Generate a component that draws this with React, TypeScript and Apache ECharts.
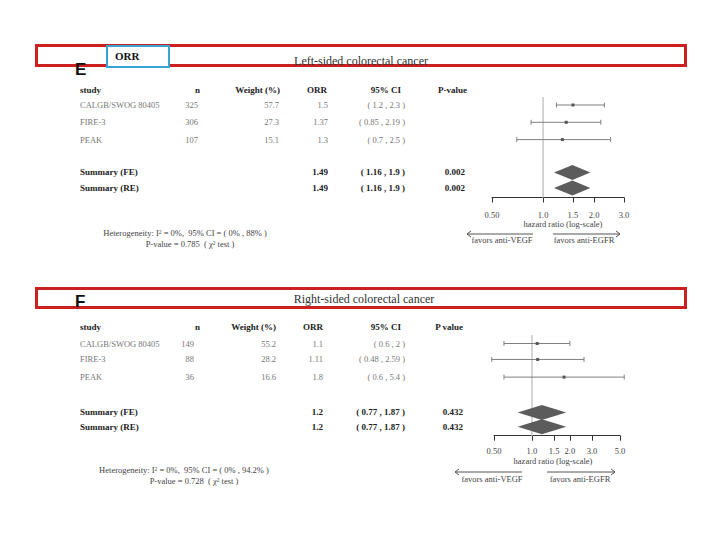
import React, { useEffect, useRef } from "react";
import * as echarts from "echarts";

// ---------------- data ----------------
const studies = ["CALGB/SWOG 80405", "FIRE-3", "PEAK"];
const summaryLabels = ["Summary (FE)", "Summary (RE)"];

// Left-sided
const leftN = [325, 306, 107];
const leftWeight = [57.7, 27.3, 15.1];
const leftOrr = [1.5, 1.37, 1.3];
const leftLower = [1.2, 0.85, 0.7];
const leftUpper = [2.3, 2.19, 2.5];
const leftSumOrr = [1.49, 1.49];
const leftSumLower = [1.16, 1.16];
const leftSumUpper = [1.9, 1.9];
const leftSumP = ["0.002", "0.002"];
const leftHetI2 = ["0%", "0%", "88%"];
const leftHetP = "0.785";
const leftTickValues = [0.5, 1, 1.5, 2, 3];
const leftTickLabels = ["0.50", "1.0", "1.5", "2.0", "3.0"];

// Right-sided
const rightN = [149, 88, 36];
const rightWeight = [55.2, 28.2, 16.6];
const rightOrr = [1.1, 1.11, 1.8];
const rightLower = [0.6, 0.48, 0.6];
const rightUpper = [2, 2.59, 5.4];
const rightSumOrr = [1.2, 1.2];
const rightSumLower = [0.77, 0.77];
const rightSumUpper = [1.87, 1.87];
const rightSumP = ["0.432", "0.432"];
const rightHetI2 = ["0%", "0%", "94.2%"];
const rightHetP = "0.728";
const rightTickValues = [0.5, 1, 1.5, 2, 3, 5];
const rightTickLabels = ["0.50", "1.0", "1.5", "2.0", "3.0", "5.0"];

const refValue = 1;
const axisTitle = "hazard ratio (log-scale)";
const favorLeft = "favors anti-VEGF";
const favorRight = "favors anti-EGFR";

// ---------------- layout ----------------
const SERIF = '"Liberation Serif", "Times New Roman", serif';
const SANS = '"Liberation Sans", Arial, sans-serif';

const layouts = [
  {
    letter: "E", letterY: 69, boxY: 44, boxH: 23,
    title: "Left-sided colorectal cancer", titleX: 361, titleY: 61,
    headerY: 90, pHeader: "P-value",
    row0: 105, unit: 17.3, rowPos: [0, 1, 2, 3.9, 4.8],
    gridTop: 97, gridBottom: 197.5, gridLeft: 492, gridRight: 624,
    labelMargin: 13, axisTitleX: 563, axisTitleY: 224,
    nR: 198, nHR: 200, wR: 279, wHR: 280, oR: 328, oHR: 327, cR: 405, cHR: 401, pR: 465, pHR: 467,
    hetX1: 185, hetY1: 233, hetX2: 190, hetY2: 244,
    arrowY: 234, favTextY: 240, leftArrow: [467, 533], rightArrow: [553, 620], favLX: 502, favRX: 584,
  },
  {
    letter: "F", letterY: 301, boxY: 287, boxH: 22,
    title: "Right-sided colorectal cancer", titleX: 364, titleY: 299,
    headerY: 327, pHeader: "P value",
    row0: 343.5, unit: 16.8, rowPos: [0, 0.95, 2, 4.1, 4.95],
    gridTop: 335, gridBottom: 435.7, gridLeft: 494, gridRight: 620,
    labelMargin: 11, axisTitleX: 553, axisTitleY: 461,
    nR: 194, nHR: 200, wR: 276, wHR: 276, oR: 323, oHR: 323, cR: 405, cHR: 401, pR: 463, pHR: 463,
    hetX1: 184, hetY1: 470, hetX2: 194, hetY2: 481,
    arrowY: 472, favTextY: 479, leftArrow: [455, 522], rightArrow: [547, 615], favLX: 492, favRX: 580,
  },
];

const panelData = [
  { n: leftN, w: leftWeight, orr: leftOrr, lo: leftLower, hi: leftUpper, sOrr: leftSumOrr, sLo: leftSumLower, sHi: leftSumUpper, sP: leftSumP, het: leftHetI2, hetP: leftHetP, ticks: leftTickValues, tickLabels: leftTickLabels },
  { n: rightN, w: rightWeight, orr: rightOrr, lo: rightLower, hi: rightUpper, sOrr: rightSumOrr, sLo: rightSumLower, sHi: rightSumUpper, sP: rightSumP, het: rightHetI2, hetP: rightHetP, ticks: rightTickValues, tickLabels: rightTickLabels },
];

function txt(text: string, x: number, y: number, opts: any = {}) {
  const align = opts.align || "left";
  const vAlign = opts.vAlign || "middle";
  return {
    type: "text",
    x,
    y,
    z: opts.z ?? 20,
    style: {
      text,
      fontSize: opts.size ?? 8.5,
      fontFamily: opts.family ?? SERIF,
      fontWeight: opts.bold ? "bold" : "normal",
      fill: opts.color ?? "#777",
      align,
      verticalAlign: vAlign,
      textAlign: align,
      textVerticalAlign: vAlign,
      rich: opts.rich,
    },
  };
}

function buildOption() {
  const grid: any[] = [];
  const xAxis: any[] = [];
  const yAxis: any[] = [];
  const series: any[] = [];
  const graphic: any[] = [];

  layouts.forEach((L, gi) => {
    const D = panelData[gi];
    const yMin = (L.gridTop - L.row0) / L.unit;
    const yMax = (L.gridBottom - L.row0) / L.unit;
    const rowY = (pos: number) => L.row0 + pos * L.unit;
    const logTicks = D.ticks.map((v) => Math.log(v));

    grid.push({ left: L.gridLeft, top: L.gridTop, width: L.gridRight - L.gridLeft, height: L.gridBottom - L.gridTop });
    xAxis.push({
      gridIndex: gi,
      type: "value",
      min: logTicks[0],
      max: logTicks[logTicks.length - 1],
      axisLine: { show: true, onZero: false, lineStyle: { color: "#333", width: 1 } },
      axisTick: { show: true, inside: false, length: 5, customValues: logTicks, lineStyle: { color: "#333", width: 1 } },
      axisLabel: {
        show: true,
        customValues: logTicks,
        margin: L.labelMargin,
        fontSize: 8.5,
        fontFamily: SERIF,
        color: "#444",
        formatter: (v: number) => {
          let best = 0;
          logTicks.forEach((t, k) => {
            if (Math.abs(t - v) < Math.abs(logTicks[best] - v)) best = k;
          });
          return D.tickLabels[best];
        },
      },
      splitLine: { show: false },
    });
    yAxis.push({ gridIndex: gi, type: "value", inverse: true, min: yMin, max: yMax, show: false });

    // reference line
    series.push({
      type: "custom",
      xAxisIndex: gi,
      yAxisIndex: gi,
      z: 1,
      silent: true,
      data: [[Math.log(refValue), yMin, yMax]],
      encode: { x: 0, y: [1, 2] },
      renderItem: (params: any, api: any) => {
        const a = api.coord([api.value(0), api.value(1)]);
        const b = api.coord([api.value(0), api.value(2)]);
        return { type: "line", shape: { x1: a[0], y1: a[1], x2: b[0], y2: b[1] }, style: { stroke: "#c8c8c8", lineWidth: 1.5 } };
      },
    });

    // study CIs
    series.push({
      type: "custom",
      xAxisIndex: gi,
      yAxisIndex: gi,
      z: 2,
      silent: true,
      data: studies.map((_, i) => [Math.log(D.lo[i]), Math.log(D.hi[i]), Math.log(D.orr[i]), L.rowPos[i]]),
      encode: { x: [0, 1, 2], y: 3 },
      renderItem: (params: any, api: any) => {
        const y = api.value(3);
        const lo = api.coord([api.value(0), y]);
        const hi = api.coord([api.value(1), y]);
        const est = api.coord([api.value(2), y]);
        const st = { stroke: "#808080", lineWidth: 1 };
        const cap = 2.5;
        return {
          type: "group",
          children: [
            { type: "line", shape: { x1: lo[0], y1: lo[1], x2: hi[0], y2: hi[1] }, style: st },
            { type: "line", shape: { x1: lo[0], y1: lo[1] - cap, x2: lo[0], y2: lo[1] + cap }, style: st },
            { type: "line", shape: { x1: hi[0], y1: hi[1] - cap, x2: hi[0], y2: hi[1] + cap }, style: st },
            { type: "rect", shape: { x: est[0] - 1.5, y: est[1] - 1.5, width: 3, height: 3 }, style: { fill: "#555" } },
          ],
        };
      },
    });

    // summary diamonds
    series.push({
      type: "custom",
      xAxisIndex: gi,
      yAxisIndex: gi,
      z: 3,
      silent: true,
      data: summaryLabels.map((_, i) => [Math.log(D.sLo[i]), Math.log(D.sHi[i]), Math.log(D.sOrr[i]), L.rowPos[3 + i]]),
      encode: { x: [0, 1, 2], y: 3 },
      renderItem: (params: any, api: any) => {
        const y = api.value(3);
        const lo = api.coord([api.value(0), y]);
        const hi = api.coord([api.value(1), y]);
        const est = api.coord([api.value(2), y]);
        const h = 7.5;
        return {
          type: "polygon",
          shape: { points: [[lo[0], lo[1]], [est[0], est[1] - h], [hi[0], hi[1]], [est[0], est[1] + h]] },
          style: { fill: "#5c5c5c" },
        };
      },
    });

    // ---- frame box, letter, title ----
    graphic.push({
      type: "rect",
      z: 5,
      shape: { x: 36.5, y: L.boxY + 1.5, width: 649, height: L.boxH - 3 },
      style: { fill: "#fff", stroke: "#cc1f1f", lineWidth: 3 },
    });
    if (gi === 0) {
      graphic.push({
        type: "rect",
        z: 6,
        shape: { x: 107, y: 46, width: 62, height: 21 },
        style: { fill: "#fff", stroke: "#3aa3d2", lineWidth: 2 },
      });
      graphic.push(txt("ORR", 115, 56, { size: 11, bold: true, color: "#111" }));
    }
    graphic.push(txt(L.letter, 75, L.letterY, { size: 17, bold: true, family: SANS, color: "#111", z: 25 }));
    graphic.push(txt(L.title, L.titleX, L.titleY, { size: 12, color: "#333", align: "center" }));

    // ---- table header ----
    const hb = { bold: true, size: 9, color: "#222" };
    graphic.push(txt("study", 80, L.headerY, hb));
    graphic.push(txt("n", L.nHR, L.headerY, { ...hb, align: "right" }));
    graphic.push(txt("Weight (%)", L.wHR, L.headerY, { ...hb, align: "right" }));
    graphic.push(txt("ORR", L.oHR, L.headerY, { ...hb, align: "right" }));
    graphic.push(txt("95% CI", L.cHR, L.headerY, { ...hb, align: "right" }));
    graphic.push(txt(L.pHeader, L.pHR, L.headerY, { ...hb, align: "right" }));

    // ---- study rows ----
    studies.forEach((s, i) => {
      const y = rowY(L.rowPos[i]);
      graphic.push(txt(s, 80, y));
      graphic.push(txt(String(D.n[i]), L.nR, y, { align: "right" }));
      graphic.push(txt(String(D.w[i]), L.wR, y, { align: "right" }));
      graphic.push(txt(String(D.orr[i]), L.oR, y, { align: "right" }));
      graphic.push(txt(`( ${D.lo[i]} , ${D.hi[i]} )`, L.cR, y, { align: "right" }));
    });

    // ---- summary rows ----
    summaryLabels.forEach((s, i) => {
      const y = rowY(L.rowPos[3 + i]);
      graphic.push(txt(s, 80, y, hb));
      graphic.push(txt(String(D.sOrr[i]), L.oR, y, { ...hb, align: "right" }));
      graphic.push(txt(`( ${D.sLo[i]} , ${D.sHi[i]} )`, L.cR, y, { ...hb, align: "right" }));
      graphic.push(txt(D.sP[i], L.pR, y, { ...hb, align: "right" }));
    });

    // ---- heterogeneity ----
    const rich = {
      a: { fontSize: 8.5, fontFamily: SERIF, fill: "#444", color: "#444" },
      s: { fontSize: 5.5, fontFamily: SERIF, fill: "#444", color: "#444", verticalAlign: "top" },
    };
    graphic.push(
      txt(`{a|Heterogeneity: I}{s|2}{a| = ${D.het[0]},  95% CI = ( ${D.het[1]} , ${D.het[2]} )}`, L.hetX1, L.hetY1, {
        align: "center",
        rich,
        color: "#444",
      })
    );
    graphic.push(
      txt(`{a|P-value = ${D.hetP}  ( χ}{s|2}{a| test )}`, L.hetX2, L.hetY2, { align: "center", rich, color: "#444" })
    );

    // ---- axis title ----
    graphic.push(txt(axisTitle, L.axisTitleX, L.axisTitleY, { align: "center", color: "#444" }));

    // ---- favors arrows ----
    const ast = { stroke: "#555", lineWidth: 1, fill: null };
    const [la, lb] = L.leftArrow;
    const [ra, rb] = L.rightArrow;
    const ay = L.arrowY;
    graphic.push({ type: "polyline", z: 20, shape: { points: [[la, ay], [lb, ay]] }, style: ast });
    graphic.push({ type: "polyline", z: 20, shape: { points: [[la + 4, ay - 3], [la, ay], [la + 4, ay + 3]] }, style: ast });
    graphic.push({ type: "polyline", z: 20, shape: { points: [[ra, ay], [rb, ay]] }, style: ast });
    graphic.push({ type: "polyline", z: 20, shape: { points: [[rb - 4, ay - 3], [rb, ay], [rb - 4, ay + 3]] }, style: ast });
    graphic.push(txt(favorLeft, L.favLX, L.favTextY, { align: "center", color: "#444" }));
    graphic.push(txt(favorRight, L.favRX, L.favTextY, { align: "center", color: "#444" }));
  });

  return {
    animation: false,
    backgroundColor: "#fff",
    grid,
    xAxis,
    yAxis,
    series,
    graphic: { elements: graphic },
  };
}

export default function App() {
  const ref = useRef<HTMLDivElement>(null);
  useEffect(() => {
    const chart = echarts.init(ref.current as HTMLDivElement, undefined, { renderer: "svg" });
    chart.setOption(buildOption() as any);
    return () => chart.dispose();
  }, []);
  return (
    <div
      ref={ref}
      style={{ position: "fixed", left: 0, top: 0, width: 720, height: 540, background: "#fff" }}
    />
  );
}
